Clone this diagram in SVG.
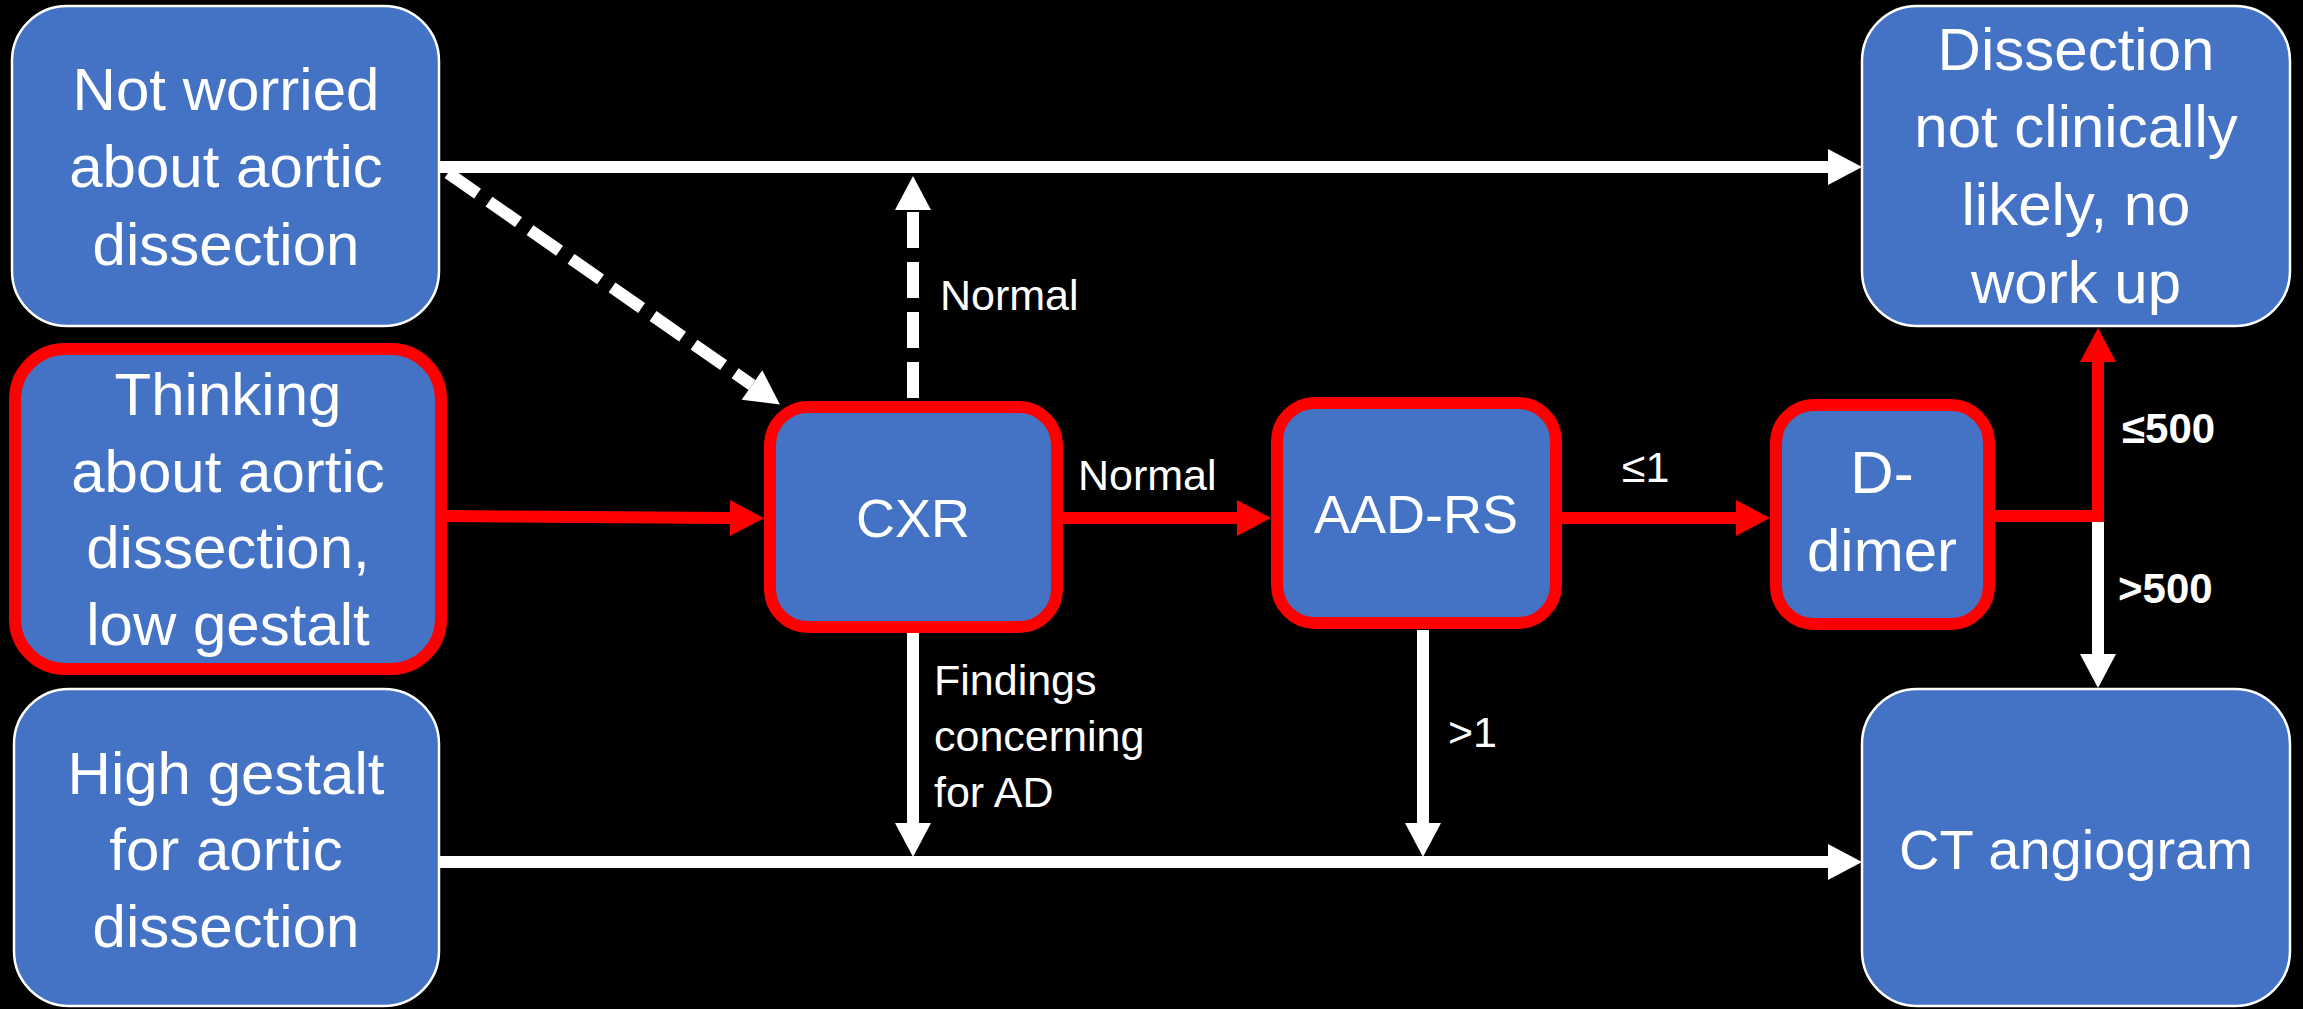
<svg xmlns="http://www.w3.org/2000/svg" width="2303" height="1009" viewBox="0 0 2303 1009">
<style>
.box{fill:#4472C4;stroke:#FFFFFF;stroke-width:2.5}
.rbox{fill:#4472C4;stroke:#FF0000;stroke-width:12}
.t{font-family:"Liberation Sans",Arial,sans-serif;font-size:60px;fill:#FFFFFF;text-anchor:middle}
.lbl{font-family:"Liberation Sans",Arial,sans-serif;font-size:43px;fill:#FFFFFF}
.lblb{font-family:"Liberation Sans",Arial,sans-serif;font-size:42px;font-weight:bold;fill:#FFFFFF}
.w{stroke:#FFFFFF;stroke-width:12;fill:none}
.r{stroke:#FF0000;stroke-width:12;fill:none;stroke-linejoin:miter}
.d{stroke-dasharray:36 14}
</style>
<defs>
<marker id="aw" markerUnits="userSpaceOnUse" markerWidth="34" markerHeight="36" viewBox="0 0 34 36" refX="0" refY="18" orient="auto" overflow="visible">
<path d="M0,0 L34,18 L0,36 z" fill="#FFFFFF"/>
</marker>
<marker id="ar" markerUnits="userSpaceOnUse" markerWidth="34" markerHeight="36" viewBox="0 0 34 36" refX="0" refY="18" orient="auto" overflow="visible">
<path d="M0,0 L34,18 L0,36 z" fill="#FF0000"/>
</marker>
</defs>
<rect width="2303" height="1009" fill="#000000"/>

<g id="connectors">
<line class="w" x1="439" y1="167" x2="1828" y2="167" marker-end="url(#aw)"/>
<line class="w d" x1="448" y1="173" x2="752" y2="385" marker-end="url(#aw)"/>
<line class="w d" x1="913" y1="398" x2="913" y2="210" marker-end="url(#aw)"/>
<line class="r" x1="441" y1="516" x2="730" y2="518" marker-end="url(#ar)"/>
<line class="r" x1="1063" y1="518" x2="1237" y2="518" marker-end="url(#ar)"/>
<line class="r" x1="1562" y1="518" x2="1736" y2="518" marker-end="url(#ar)"/>
<polyline class="r" points="1995,516 2098,516 2098,362" marker-end="url(#ar)"/>
<line class="w" x1="2098" y1="522" x2="2098" y2="654" marker-end="url(#aw)"/>
<line class="w" x1="439" y1="862" x2="1828" y2="862" marker-end="url(#aw)"/>
<line class="w" x1="913" y1="633" x2="913" y2="823" marker-end="url(#aw)"/>
<line class="w" x1="1423" y1="630" x2="1423" y2="823" marker-end="url(#aw)"/>
<text class="lbl" x="940" y="310">Normal</text>
<text class="lbl" x="1078" y="490">Normal</text>
<text class="lbl" x="1622" y="482">≤1</text>
<text class="lbl" x="934" y="695">Findings</text>
<text class="lbl" x="934" y="751">concerning</text>
<text class="lbl" x="934" y="807">for AD</text>
<text class="lbl" x="1448" y="747">&gt;1</text>
<text class="lblb" x="2122" y="443">≤500</text>
<text class="lblb" x="2118" y="603">&gt;500</text>
</g>

<g id="not-worried">
<rect class="box" x="12" y="6" width="427" height="320" rx="55"/>
<text class="t" x="226" y="110">Not worried</text>
<text class="t" x="226" y="187">about aortic</text>
<text class="t" x="226" y="265">dissection</text>
</g>

<g id="thinking">
<rect class="rbox" x="15" y="349" width="426" height="320" rx="50"/>
<text class="t" x="228" y="415">Thinking</text>
<text class="t" x="228" y="492">about aortic</text>
<text class="t" x="228" y="568">dissection,</text>
<text class="t" x="228" y="645">low gestalt</text>
</g>

<g id="high-gestalt">
<rect class="box" x="14" y="689" width="425" height="317" rx="55"/>
<text class="t" x="226" y="794">High gestalt</text>
<text class="t" x="226" y="870">for aortic</text>
<text class="t" x="226" y="947">dissection</text>
</g>

<g id="cxr">
<rect class="rbox" x="770" y="407" width="287" height="220" rx="38"/>
<text class="t" x="913" y="537" style="font-size:54px">CXR</text>
</g>

<g id="aad-rs">
<rect class="rbox" x="1277" y="403" width="279" height="220" rx="38"/>
<text class="t" x="1416" y="533" style="font-size:54px">AAD-RS</text>
</g>

<g id="d-dimer">
<rect class="rbox" x="1776" y="405" width="213" height="219" rx="38"/>
<text class="t" x="1882" y="493">D-</text>
<text class="t" x="1882" y="571">dimer</text>
</g>

<g id="no-workup">
<rect class="box" x="1862" y="6" width="428" height="320" rx="55"/>
<text class="t" x="2076" y="70">Dissection</text>
<text class="t" x="2076" y="147">not clinically</text>
<text class="t" x="2076" y="225">likely, no</text>
<text class="t" x="2076" y="303">work up</text>
</g>

<g id="ct-angiogram">
<rect class="box" x="1862" y="689" width="428" height="317" rx="55"/>
<text class="t" x="2076" y="869" style="font-size:56px">CT angiogram</text>
</g>
</svg>
